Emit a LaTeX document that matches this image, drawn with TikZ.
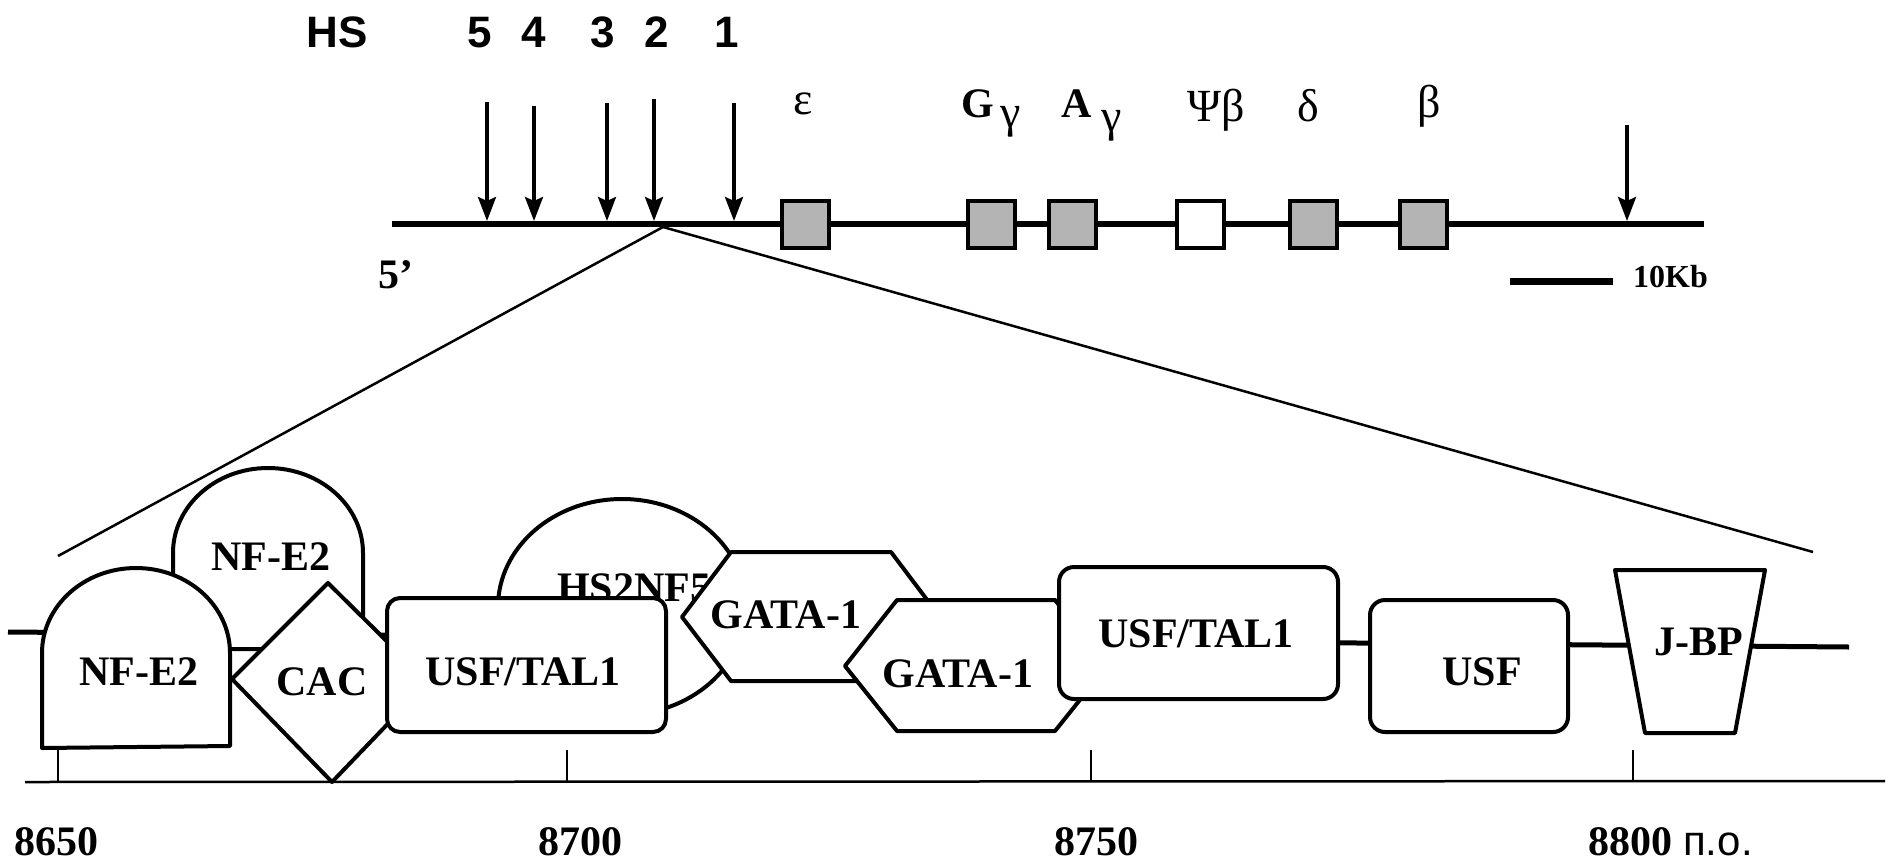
\documentclass[tikz,border=0pt]{standalone}
\usepackage{fontspec}
\setmainfont{Liberation Serif}
\newfontfamily\arialf{Liberation Sans}
\usetikzlibrary{arrows.meta}
\definecolor{genegray}{HTML}{B4B4B4}
\begin{document}
\begin{tikzpicture}[x=1pt,y=-1pt,
  lbl/.style={font=\fontsize{42}{48}\selectfont\bfseries, inner sep=0pt, anchor=base},
  hslbl/.style={font=\arialf\fontsize{44}{50}\selectfont\bfseries, inner sep=0pt, anchor=base},
  greek/.style={font=\fontsize{46}{52}\selectfont, inner sep=0pt, anchor=base},
  subgreek/.style={font=\fontsize{46}{52}\selectfont, inner sep=0pt, anchor=base},
  glbl/.style={font=\fontsize{42}{48}\selectfont\bfseries, inner sep=0pt, anchor=base},
  gene/.style={draw, line width=4pt, fill=genegray, minimum size=47pt, inner sep=0pt},
  pseudo/.style={gene, fill=white},
  arr/.style={line width=3.5pt, -{Stealth[length=24pt,width=18pt,inset=4pt]}},
  site/.style={draw, line width=4pt, fill=white, line join=round},
  thin/.style={line width=2.5pt},
]
\path[use as bounding box] (0,0) rectangle (1889,865);

% ---------------- top: locus ----------------
\coordinate (locL) at (392,224);
\coordinate (locR) at (1704,224);
\coordinate (hs2) at (663,227);
\coordinate (zoomL) at (58,556);
\coordinate (zoomR) at (1813,552);

\draw[thin] (zoomL) -- (hs2) -- (zoomR);
\draw[line width=6pt] (locL) -- (locR);

\foreach \i/\x/\t in {5/487/102, 4/534/106, 3/607/103, 2/654/99, 1/734/103, 0/1627/125}{
  \coordinate (at\i) at (\x,\t);
  \coordinate (ab\i) at (\x,221);
  \draw[arr] (at\i) -- (ab\i);
}

\node[gene]   (geps)  at (805,224) {};
\node[gene]   (gGg)   at (991,224) {};
\node[gene]   (gAg)   at (1072,224) {};
\node[pseudo] (gpsi)  at (1200,224) {};
\node[gene]   (gdel)  at (1313,224) {};
\node[gene]   (gbet)  at (1423,224) {};

\node[hslbl] (tHS) at (337,47) {HS};
\node[hslbl] (t5) at (480,47) {5};
\node[hslbl] (t4) at (534,47) {4};
\node[hslbl] (t3) at (603,47) {3};
\node[hslbl] (t2) at (657,47) {2};
\node[hslbl] (t1) at (727,47) {1};

\node[greek]    (teps) at (803,114) {ε};
\node[glbl]     (tG)   at (978,117) {G};
\node[subgreek] (tGg)  at (1011,127) {γ};
\node[glbl]     (tA)   at (1077,117) {A};
\node[subgreek] (tAg)  at (1112,131) {γ};
\node[greek]    (tpsi) at (1216,121) {Ψβ};
\node[greek]    (tdel) at (1308,121) {δ};
\node[greek]    (tbet) at (1429,117) {β};

\node[lbl] (t5p) at (396,288) {5’};

\coordinate (barL) at (1510,281);
\coordinate (barR) at (1613,281);
\draw[line width=7pt] (barL) -- (barR);
\node[lbl, anchor=base west, font=\fontsize{32}{36}\selectfont\bfseries] (tkb) at (1633,287) {10Kb};

% ---------------- bottom: HS2 detail ----------------
\coordinate (dnaL) at (8,632);
\coordinate (dnaR) at (1849,647);
\draw[line width=5pt] (dnaL) -- (dnaR);

% upper NF-E2
\draw[site] (173,649) -- (173,553) .. controls (173,506) and (215.5,468) .. (268,468)
  .. controls (320.5,468) and (363,506) .. (363,553) -- (363,649) -- cycle;
% lower NF-E2
\draw[site] (42,748) -- (42,653) .. controls (42,606) and (84,568) .. (136,568)
  .. controls (188,568) and (230,606) .. (230,653) -- (230,746) -- cycle;
% CAC diamond
\draw[site] (328,583) -- (428,682) -- (332,782) -- (232,679) -- cycle;
% HS2NF5 ellipse
\draw[site] (622,607) ellipse [x radius=124, y radius=108];
\node[lbl] (tHSNF) at (634,601) {HS2NF5};
% USF/TAL1 box 1
\draw[site, rounded corners=13pt] (387,598) rectangle (666,732);
% GATA-1 upper
\draw[site] (682,617) -- (731,552) -- (891,552) -- (940,617) -- (891,681) -- (731,681) -- cycle;
% GATA-1 lower
\draw[site] (845,666) -- (897,600) -- (1055,600) -- (1107,666) -- (1055,731) -- (897,731) -- cycle;
% USF/TAL1 box 2
\draw[site, rounded corners=15pt] (1059,567) rectangle (1338,699);
% USF box
\draw[site, rounded corners=15pt] (1370,600) rectangle (1568,732);
% J-BP trapezoid
\draw[site] (1615,570) -- (1765,570) -- (1735,733) -- (1645,733) -- cycle;

\node[lbl] (tnf1) at (139,685) {NF-E2};
\node[lbl] (tnf2) at (271,570) {NF-E2};
\node[lbl] (tcac) at (322,695) {CAC};
\node[lbl] (tut1) at (523,685) {USF/TAL1};
\node[lbl] (tga1) at (786,628) {GATA-1};
\node[lbl] (tga2) at (958,687) {GATA-1};
\node[lbl] (tut2) at (1196,647) {USF/TAL1};
\node[lbl] (tusf) at (1482,685) {USF};
\node[lbl] (tjbp) at (1699,655) {J-BP};

% scale
\coordinate (axL) at (25,782);
\coordinate (axR) at (1885,781);
\draw[thin] (axL) -- (axR);
\foreach \i/\x in {a/58, b/567, c/1091, d/1633}{
  \coordinate (tk\i top) at (\x,750);
  \coordinate (tk\i bot) at (\x,782);
  \draw[thin] (tk\i top) -- (tk\i bot);
}
\node[lbl] (n8650) at (56,855) {8650};
\node[lbl] (n8700) at (580,855) {8700};
\node[lbl] (n8750) at (1096,855) {8750};
\node[lbl] (n8800) at (1630,855) {8800};
\node[font=\arialf\fontsize{42}{48}\selectfont, inner sep=0pt, anchor=base west] (npo) at (1683,855) {п.о.};
\end{tikzpicture}
\end{document}
